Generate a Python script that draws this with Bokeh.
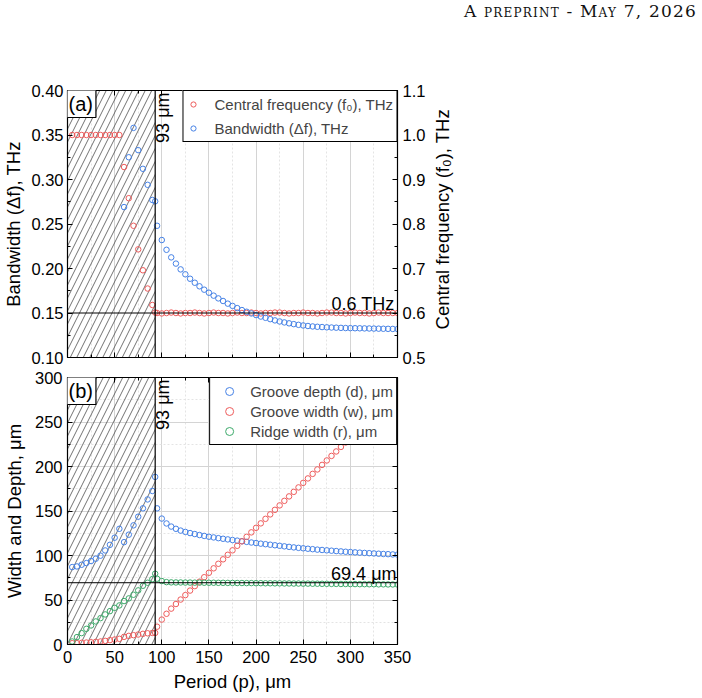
from math import pi

from bokeh.embed import file_html
from bokeh.layouts import column, row
from bokeh.models import (CustomJSTickFormatter, Div, Label, LinearAxis,
                          NumeralTickFormatter, Range1d, SingleIntervalTicker, Span)
from bokeh.plotting import figure
from bokeh.resources import INLINE

# ---------------------------------------------------------------- data
cutoff_period = 93          # μm, smallest usable period
f0_target = 0.6             # THz, design central frequency
ridge_target = 69.4         # μm, converged ridge width

# (a) central frequency f0 (THz) vs period p (μm)
period_f0 = [5, 10, 15, 20, 25, 30, 35, 40, 45, 50, 55, 60, 65, 70, 75, 80, 85, 90, 93] \
    + list(range(95, 351, 5))
f0 = [1.000, 1.000, 1.000, 1.000, 1.000, 1.000, 1.000, 1.000, 1.000, 1.000, 1.000,
      0.928, 0.858, 0.796, 0.743, 0.696, 0.655, 0.618, 0.601,
      0.600, 0.599, 0.600, 0.601, 0.600, 0.599, 0.600, 0.600, 0.601, 0.600,
      0.599, 0.600, 0.601, 0.600, 0.600, 0.599, 0.600, 0.601, 0.600, 0.600,
      0.601, 0.600, 0.599, 0.600, 0.600, 0.601, 0.601, 0.600, 0.599, 0.600,
      0.600, 0.601, 0.600, 0.600, 0.599, 0.600, 0.601, 0.601, 0.600, 0.600,
      0.599, 0.600, 0.601, 0.600, 0.600, 0.599, 0.600, 0.601, 0.600, 0.600,
      0.600, 0.600]

# (a) bandwidth Δf (THz) vs period p (μm)
period_bw = [60, 65, 70, 75, 80, 85, 90, 93] + list(range(95, 351, 5))
bandwidth = [0.269, 0.325, 0.358, 0.333, 0.312, 0.294, 0.277, 0.2755,
             0.248, 0.232, 0.221, 0.2125, 0.2055, 0.199, 0.1935, 0.1885, 0.184, 0.180,
             0.1762, 0.1728, 0.1695, 0.1664, 0.1635, 0.1605, 0.158, 0.1555, 0.1533, 0.1514,
             0.1495, 0.1477, 0.146, 0.1446, 0.1431, 0.1417, 0.1405, 0.1394, 0.1384, 0.1375,
             0.1367, 0.136, 0.1354, 0.1349, 0.1345, 0.1342, 0.1339, 0.1337, 0.1335, 0.1333,
             0.1331, 0.1330, 0.1329, 0.1328, 0.1327, 0.1326, 0.1325, 0.1324, 0.1323, 0.1322,
             0.1321, 0.1320]

# (b) geometry (μm) vs period p (μm)
period_geo = [5, 10, 15, 20, 25, 30, 35, 40, 45, 50, 55, 60, 65, 70, 75, 80, 85, 90, 93] \
    + list(range(95, 351, 5))
groove_depth = [87.0, 87.7, 89.6, 91.5, 93.8, 96.4, 99.8, 105.7, 112.0, 120.0, 130.0,
                115.0, 123.4, 133.9, 143.6, 153.0, 163.0, 172.5, 188.3,
                153.0, 141.5, 136.0, 132.5, 130.0, 128.0, 126.5, 125.2, 124.1, 123.0,
                122.0, 121.1, 120.3, 119.5, 118.8, 118.1, 117.4, 116.7, 116.0, 115.3,
                114.6, 114.0, 113.3, 112.7, 112.1, 111.5, 110.9, 110.3, 109.7, 109.1,
                108.6, 108.1, 107.6, 107.1, 106.6, 106.2, 105.8, 105.4, 105.0, 104.6,
                104.2, 103.9, 103.5, 103.2, 102.9, 102.6, 102.3, 102.0, 101.7, 101.5,
                101.2, 101.0]
groove_width = [1.5, 1.5, 1.9, 2.2, 2.5, 3.0, 3.4, 4.1, 4.9, 5.6, 6.4,
                8.6, 9.7, 10.5, 11.2, 12.0, 12.6, 13.0, 13.0,
                20.0, 28.0, 34.5, 40.3, 45.5, 50.5, 55.5, 60.6, 65.6, 70.6,
                75.6, 80.6, 85.6, 90.7, 95.7, 100.8, 105.8, 110.9, 115.9, 121.0,
                126.0, 131.1, 136.1, 141.2, 146.2, 151.3, 156.3, 161.4, 166.4, 171.5,
                176.5, 181.6, 186.6, 191.7, 196.7, 201.8, 206.8, 211.9, 216.9, 222.0,
                227.0, 232.1, 237.1, 242.2, 247.2, 252.3, 257.3, 262.4, 267.4, 272.5,
                277.5, 282.6]
ridge_width = [3.4, 8.3, 12.8, 17.6, 21.4, 25.9, 29.6, 33.8, 37.5, 41.2, 43.9,
               48.8, 51.8, 55.9, 60.8, 66.0, 69.4, 73.5, 79.5,
               73.9, 71.3, 70.1, 69.8, 69.7, 69.7, 69.6, 69.6, 69.5, 69.5,
               69.4, 69.4, 69.4, 69.3, 69.3, 69.2, 69.2, 69.1, 69.1, 69.0,
               69.0, 68.9, 68.9, 68.8, 68.8, 68.7, 68.7, 68.6, 68.6, 68.5,
               68.5, 68.4, 68.4, 68.3, 68.3, 68.2, 68.2, 68.1, 68.1, 68.0,
               68.0, 67.9, 67.9, 67.8, 67.8, 67.7, 67.7, 67.6, 67.6, 67.5,
               67.5, 67.4]

# ---------------------------------------------------------------- styling
BLUE = "#4682E6"
RED = "#EE5C5C"
GREEN = "#3DAA6B"
FONT = "Liberation Sans"
MARK = 5.5


def style_axis(ax, labels=True):
    ax.axis_line_color = "black"
    ax.major_tick_in = 5
    ax.major_tick_out = 0
    ax.minor_tick_in = 3
    ax.minor_tick_out = 0
    ax.major_tick_line_color = "black"
    ax.minor_tick_line_color = "black"
    ax.major_label_text_font = FONT
    ax.major_label_text_font_size = "16.5px"
    ax.major_label_text_color = "black"
    ax.axis_label_text_font = FONT
    ax.axis_label_text_font_size = "18.5px"
    ax.axis_label_text_font_style = "normal"
    ax.axis_label_text_color = "black"
    ax.major_label_standoff = 5
    ax.axis_label_standoff = 7
    if not labels:
        # tick marks only (frame mirror axes)
        ax.formatter = CustomJSTickFormatter(code="return ''")
        ax.major_label_standoff = 0
        ax.axis_label_standoff = 0


def style_grid(g):
    g.grid_line_color = "#d4d4d4"
    g.grid_line_width = 1
    g.minor_grid_line_color = "#e4e4e4"
    g.minor_grid_line_dash = "2 2"


def style_legend(lg, pad, glyph_w, standoff, spacing):
    lg.location = "top_right"
    lg.margin = 0
    lg.padding = pad
    lg.spacing = spacing
    lg.glyph_width = glyph_w
    lg.glyph_height = 20
    lg.label_height = 20
    lg.label_standoff = standoff
    lg.label_text_font = FONT
    lg.label_text_font_size = "15px"
    lg.border_line_color = "black"
    lg.border_line_width = 1
    lg.border_line_alpha = 1
    lg.background_fill_alpha = 1


def x_ticker():
    return SingleIntervalTicker(interval=50, num_minor_ticks=2)


def excluded_band(p, y0, y1):
    # hatched region below the usable period
    p.quad(left=0, right=cutoff_period, bottom=y0, top=y1, fill_color=None,
           line_color=None, hatch_pattern="/", hatch_color="#333333",
           hatch_weight=0.7, hatch_scale=13)
    p.add_layout(Span(location=cutoff_period, dimension="height",
                      line_color="black", line_width=1.2))
    p.add_layout(Label(x=cutoff_period, y=y1, angle=pi / 2, text=f"{cutoff_period} μm",
                       text_align="right", text_baseline="top", x_offset=-2, y_offset=-2,
                       text_font=FONT, text_font_size="18px", text_color="black"))


def panel_tag(p, tag, y_top):
    p.add_layout(Label(x=0, y=y_top, text=tag, text_align="left", text_baseline="top",
                       text_font=FONT, text_font_size="20px", text_color="black",
                       border_line_color="black", border_line_width=1.2,
                       background_fill_color="white", padding=3,
                       x_offset=-2, y_offset=1))


# ---------------------------------------------------------------- panel (a)
pa = figure(width=430, height=307, x_range=Range1d(0, 350), y_range=Range1d(0.10, 0.40),
            output_backend="svg", toolbar_location=None,
            min_border_left=65, min_border_right=33, min_border_top=30,
            min_border_bottom=10)
pa.extra_y_ranges = {"f0": Range1d(0.5, 1.1)}
pa.outline_line_color = "black"
pa.outline_line_width = 1.2

pa.xaxis.ticker = x_ticker()
pa.yaxis.ticker = SingleIntervalTicker(interval=0.05, num_minor_ticks=2)
pa.yaxis.formatter = NumeralTickFormatter(format="0.00")
pa.yaxis.axis_label = "Bandwidth (Δf), THz"
style_axis(pa.xaxis[0], labels=False)
style_axis(pa.yaxis[0])
pa.yaxis.major_label_standoff = 4
pa.yaxis.axis_label_standoff = 4

ra = LinearAxis(y_range_name="f0",
                ticker=SingleIntervalTicker(interval=0.1, num_minor_ticks=2),
                formatter=NumeralTickFormatter(format="0.0"))
style_axis(ra)
pa.add_layout(ra, "right")
ta = LinearAxis(ticker=x_ticker())
style_axis(ta, labels=False)
pa.add_layout(ta, "above")

style_grid(pa.xgrid[0])
pa.ygrid.visible = False

excluded_band(pa, 0.10, 0.40)
pa.add_layout(Span(location=f0_target, dimension="width", y_range_name="f0",
                   line_color="black", line_width=1))
pa.add_layout(Label(x=350, y=f0_target, y_range_name="f0", text=f"{f0_target} THz",
                    text_align="right", text_baseline="alphabetic", x_offset=-3, y_offset=9,
                    text_font=FONT, text_font_size="18px", text_color="black"))

pa.scatter(period_f0, f0, y_range_name="f0", size=MARK, fill_color=None,
           line_color=RED, line_width=1, legend_label="Central frequency (f₀), THz")
pa.scatter(period_bw, bandwidth, size=MARK, fill_color=None,
           line_color=BLUE, line_width=1, legend_label="Bandwidth (Δf), THz")
style_legend(pa.legend[0], pad=3, glyph_w=13, standoff=15, spacing=4)
panel_tag(pa, "(a)", 0.40)

# strip to the right of panel (a) carrying its right-hand axis title,
# which reads bottom-to-top like the left one
side = figure(width=272, height=307, x_range=Range1d(0, 272), y_range=Range1d(307, 0),
              output_backend="svg", toolbar_location=None,
              min_border=0, outline_line_color=None)
side.axis.visible = False
side.grid.visible = False
side.add_layout(Label(x=12, y=148, angle=pi / 2, text="Central frequency (f₀), THz",
                      text_align="center", text_baseline="middle",
                      text_font=FONT, text_font_size="18.5px", text_color="black"))

# ---------------------------------------------------------------- panel (b)
pb = figure(width=702, height=331, x_range=Range1d(0, 350), y_range=Range1d(0, 300),
            output_backend="svg", toolbar_location=None,
            min_border_left=65, min_border_right=305, min_border_top=10,
            min_border_bottom=54)
pb.outline_line_color = "black"
pb.outline_line_width = 1.2

pb.xaxis.ticker = x_ticker()
pb.yaxis.ticker = SingleIntervalTicker(interval=50, num_minor_ticks=2)
pb.xaxis.axis_label = "Period (p), μm"
pb.yaxis.axis_label = "Width and Depth, μm"
style_axis(pb.xaxis[0])
pb.xaxis.major_label_standoff = 6
pb.xaxis.axis_label_standoff = 5
style_axis(pb.yaxis[0])

rb = LinearAxis(ticker=SingleIntervalTicker(interval=50, num_minor_ticks=2))
style_axis(rb, labels=False)
pb.add_layout(rb, "right")
tb = LinearAxis(ticker=x_ticker())
style_axis(tb, labels=False)
pb.add_layout(tb, "above")

style_grid(pb.xgrid[0])
style_grid(pb.ygrid[0])

excluded_band(pb, 0, 300)
pb.add_layout(Span(location=ridge_target, dimension="width",
                   line_color="black", line_width=1))
pb.add_layout(Label(x=350, y=ridge_target, text=f"{ridge_target} μm",
                    text_align="right", text_baseline="alphabetic", x_offset=-1, y_offset=9,
                    text_font=FONT, text_font_size="18px", text_color="black"))

pb.scatter(period_geo, groove_depth, size=MARK, fill_color=None, line_color=BLUE,
           line_width=1, legend_label="Groove depth (d), μm")
pb.scatter(period_geo, groove_width, size=MARK, fill_color=None, line_color=RED,
           line_width=1, legend_label="Groove width (w), μm")
pb.scatter(period_geo, ridge_width, size=MARK, fill_color=None, line_color=GREEN,
           line_width=1, legend_label="Ridge width (r), μm")
style_legend(pb.legend[0], pad=3, glyph_w=32, standoff=5, spacing=0)
panel_tag(pb, "(b)", 300)

# ---------------------------------------------------------------- page header
header = Div(
    text=('<div style="width:702px; box-sizing:border-box; '
          'font-family:\'DejaVu Serif\'; font-size:17px; '
          'font-variant:small-caps; letter-spacing:1.2px; text-align:right; '
          'padding:1px 5px 0 0; line-height:20px; color:#111;">'
          'A preprint - May 7, 2026</div>'),
    width=702, height=60, margin=(0, 0, 0, 0))

page = column(header, row(pa, side, spacing=0), pb, spacing=0)
open("out.html", "w").write(file_html(page, INLINE))
